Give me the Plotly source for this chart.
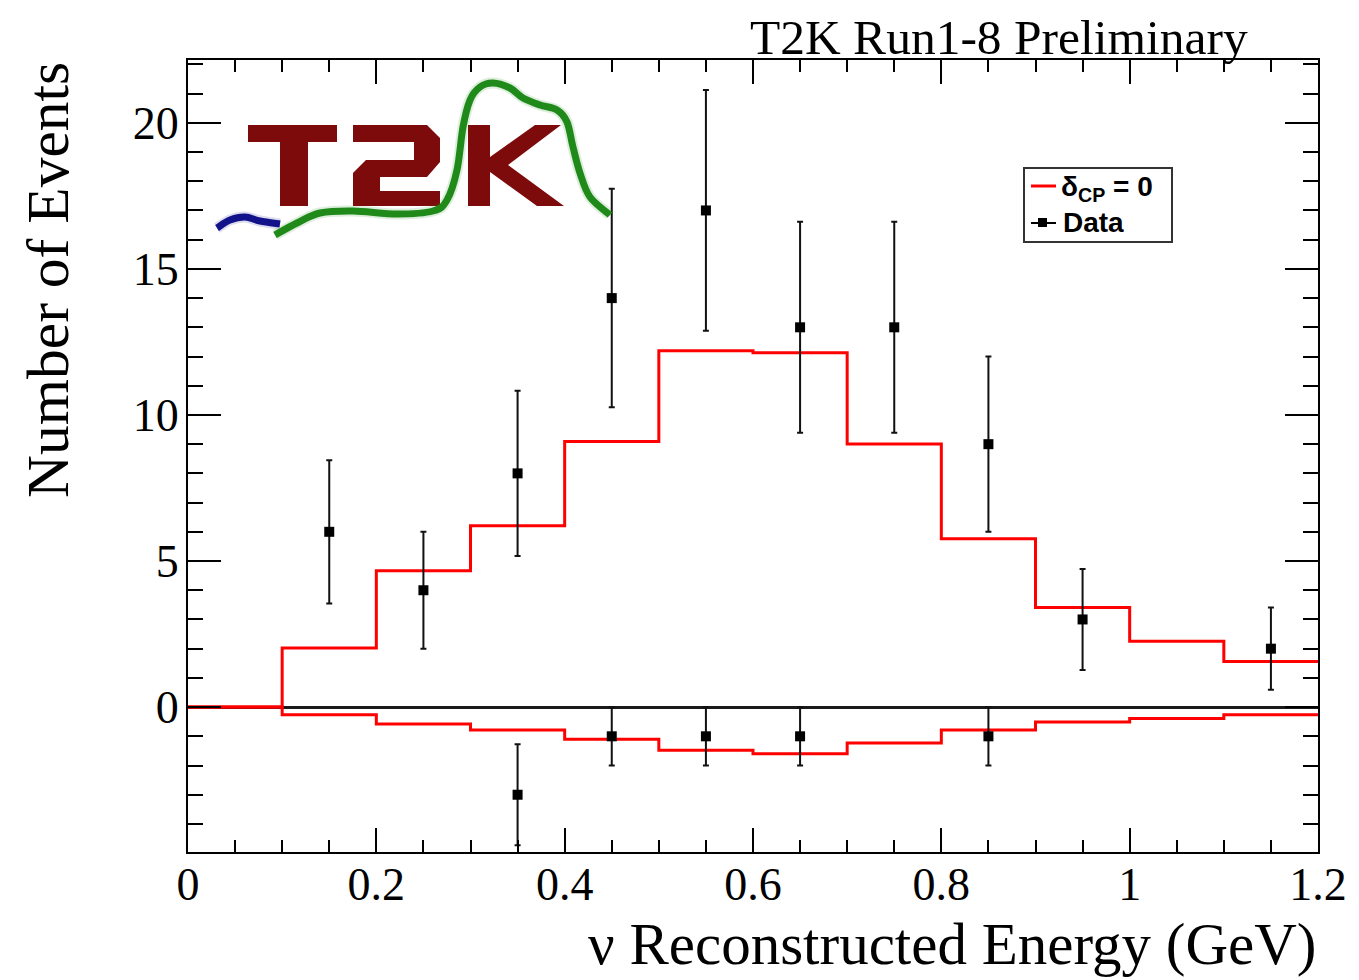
import plotly.graph_objects as go

# ---- binned prediction (delta_CP = 0), reconstructed neutrino energy in GeV ----
bin_edges = [0.0, 0.1, 0.2, 0.3, 0.4, 0.5, 0.6, 0.7, 0.8, 0.9, 1.0, 1.1, 1.2]
nu_expected = [0.0, 2.02, 4.67, 6.21, 9.09, 12.20, 12.13, 9.01, 5.76, 3.41, 2.25, 1.56]
nubar_expected = [0.0, -0.26, -0.58, -0.78, -1.10, -1.48, -1.60, -1.23, -0.78, -0.51, -0.39, -0.26]

# ---- observed events (neutrino mode above zero, antineutrino mode drawn below) ----
nu_x = [0.15, 0.25, 0.35, 0.45, 0.55, 0.65, 0.75, 0.85, 0.95, 1.15]
nu_counts = [6, 4, 8, 14, 17, 13, 13, 9, 3, 2]
nu_err = [2.45, 2.00, 2.83, 3.74, 4.12, 3.61, 3.61, 3.00, 1.73, 1.41]

nubar_x = [0.35, 0.45, 0.55, 0.65, 0.85]
nubar_counts = [-3, -1, -1, -1, -1]
nubar_err = [1.73, 1.00, 1.00, 1.00, 1.00]

x_tick_step = 0.2
y_tick_values = [0, 5, 10, 15, 20]

# figure geometry (pixels)
W, H = 1359, 980
L, R, T, B = 188, 41, 60, 128
PW, PH = W - L - R, H - T - B

SERIF = "Liberation Serif"
SANS = "Liberation Sans"
RED = "#ff0000"


def paper(px, py):
    """Pixel position on the page -> paper coordinates of the plot area."""
    return (px - L) / PW, (H - B - py) / PH


def smooth_path(points):
    """Catmull-Rom spline through pixel points, as an SVG path in paper units."""
    pts = [paper(*p) for p in points]
    ext = [pts[0]] + pts + [pts[-1]]
    d = f"M {pts[0][0]:.5f},{pts[0][1]:.5f}"
    for i in range(1, len(ext) - 2):
        p0, p1, p2, p3 = ext[i - 1], ext[i], ext[i + 1], ext[i + 2]
        c1 = (p1[0] + (p2[0] - p0[0]) / 6, p1[1] + (p2[1] - p0[1]) / 6)
        c2 = (p2[0] - (p3[0] - p1[0]) / 6, p2[1] - (p3[1] - p1[1]) / 6)
        d += f" C {c1[0]:.5f},{c1[1]:.5f} {c2[0]:.5f},{c2[1]:.5f} {p2[0]:.5f},{p2[1]:.5f}"
    return d


def polygon_path(points):
    pts = [paper(*p) for p in points]
    return "M " + " L ".join(f"{x:.5f},{y:.5f}" for x, y in pts) + " Z"


def paper_shape(kind, p0, p1, **style):
    (x0, y0), (x1, y1) = paper(*p0), paper(*p1)
    return dict(type=kind, xref="paper", yref="paper",
                x0=x0, y0=y0, x1=x1, y1=y1, layer="above", **style)


fig = go.Figure()

# prediction histograms as step lines
fig.add_trace(go.Scatter(
    x=bin_edges, y=nu_expected + [nu_expected[-1]],
    mode="lines", line=dict(color=RED, width=3, shape="hv"),
    name="δ<sub>CP</sub> = 0",
))
fig.add_trace(go.Scatter(
    x=bin_edges, y=nubar_expected + [nubar_expected[-1]],
    mode="lines", line=dict(color=RED, width=3, shape="hv"),
    name="δ<sub>CP</sub> = 0",
))

# data points with statistical error bars
marker_style = dict(symbol="square", size=10, color="black")
err_style = dict(type="data", thickness=2, width=3, color="#111111")
fig.add_trace(go.Scatter(
    x=nu_x, y=nu_counts, mode="markers", marker=marker_style,
    error_y=dict(array=nu_err, **err_style), name="Data",
))
fig.add_trace(go.Scatter(
    x=nubar_x, y=nubar_counts, mode="markers", marker=marker_style,
    error_y=dict(array=nubar_err, **err_style), name="Data",
))

# ---- experiment logo in the upper left corner ----
logo_red = "#7d0b0b"
letter_T = [(248, 125), (337, 125), (337, 142), (308, 142), (308, 206),
            (280, 206), (280, 142), (248, 142)]
letter_2 = [(353, 125), (427, 125), (440, 138), (440, 162), (427, 177),
            (380, 177), (380, 191), (440, 191), (440, 206), (353, 206),
            (353, 173), (366, 160), (414, 160), (414, 142), (353, 142)]
letter_K = [(468, 125), (490, 125), (490, 157), (535, 125), (561, 125),
            (508, 165), (564, 206), (537, 206), (490, 172), (490, 206),
            (468, 206)]
blue_wave = [(217, 228), (230, 220), (245, 217), (260, 221), (280, 224)]
green_wave = [(275, 235), (297, 223), (320, 213), (353, 211), (397, 214),
              (433, 211), (447, 200), (457, 170), (463, 127), (470, 100),
              (480, 87), (493, 83), (510, 88), (523, 98), (540, 105),
              (557, 110), (567, 122), (573, 147), (580, 173), (590, 197),
              (610, 215)]

shapes = []
for letter in (letter_T, letter_2, letter_K):
    shapes.append(dict(type="path", xref="paper", yref="paper",
                       path=polygon_path(letter), fillcolor=logo_red,
                       line=dict(width=0), layer="above"))
for pts, col, glow in ((blue_wave, "#12128a", "rgba(18,18,138,0.15)"),
                       (green_wave, "#1f8a1a", "rgba(31,138,26,0.15)")):
    shapes.append(dict(type="path", xref="paper", yref="paper",
                       path=smooth_path(pts), line=dict(color=glow, width=11),
                       layer="above"))
    shapes.append(dict(type="path", xref="paper", yref="paper",
                       path=smooth_path(pts), line=dict(color=col, width=7),
                       layer="above"))

# ---- legend box (ROOT style: line sample, marker with bar) ----
shapes.append(paper_shape("rect", (1024, 168), (1172, 242),
                          line=dict(color="#333333", width=2), fillcolor="white"))
shapes.append(paper_shape("line", (1031, 186), (1056, 186),
                          line=dict(color=RED, width=3)))
shapes.append(paper_shape("line", (1031, 223), (1056, 223),
                          line=dict(color="black", width=2)))
shapes.append(paper_shape("rect", (1038, 218), (1047, 227),
                          line=dict(width=0), fillcolor="black"))

legend_font = dict(family=SANS, size=28, color="black", weight="bold")
legend_labels = [
    dict(text="δ<sub>CP</sub> = 0", xref="paper", yref="paper",
         x=paper(1059, 0)[0], y=paper(0, 189)[1], xanchor="left",
         yanchor="middle", showarrow=False, font=legend_font),
    dict(text="Data", xref="paper", yref="paper",
         x=paper(1061, 0)[0], y=paper(0, 223)[1], xanchor="left",
         yanchor="middle", showarrow=False, font=legend_font),
]

axis_common = dict(
    showline=True, linewidth=2, linecolor="black", mirror="ticks",
    ticks="inside", tickwidth=2, tickcolor="black", showgrid=False,
    tickfont=dict(family=SERIF, size=46, color="black"),
)

fig.update_layout(
    width=W, height=H,
    margin=dict(l=L, r=R, t=T, b=B, pad=0),
    paper_bgcolor="white", plot_bgcolor="white",
    xaxis=dict(
        range=[0, 1.2], tick0=0, dtick=x_tick_step, ticklen=24,
        minor=dict(dtick=0.05, ticklen=12, tickwidth=2, tickcolor="black",
                   ticks="inside", showgrid=False),
        zeroline=False, ticklabelstandoff=-9, **axis_common,
    ),
    yaxis=dict(
        range=[-4.96, 22.15], tickvals=y_tick_values, ticklen=33,
        minor=dict(dtick=1, ticklen=15, tickwidth=2, tickcolor="black",
                   ticks="inside", showgrid=False),
        zeroline=True, zerolinecolor="#1a1a1a", zerolinewidth=3,
        ticklabelstandoff=-2, **axis_common,
    ),
    showlegend=False,
    shapes=shapes,
    annotations=legend_labels + [
        dict(text="T2K Run1-8 Preliminary", xref="paper", yref="paper",
             x=paper(1250, 0)[0], y=paper(0, 37)[1], xanchor="right",
             yanchor="middle", showarrow=False,
             font=dict(family=SERIF, size=49.5, color="black")),
        dict(text="ν Reconstructed Energy (GeV)", xref="paper", yref="paper",
             x=1.0, y=paper(0, 944)[1], xanchor="right", yanchor="middle",
             showarrow=False, font=dict(family=SERIF, size=59, color="black")),
        dict(text="Number of Events", xref="paper", yref="paper",
             x=paper(48, 0)[0], y=1.0, xanchor="center", yanchor="top",
             textangle=-90, showarrow=False,
             font=dict(family=SERIF, size=59.5, color="black")),
    ],
)

fig.write_html("out.html")
